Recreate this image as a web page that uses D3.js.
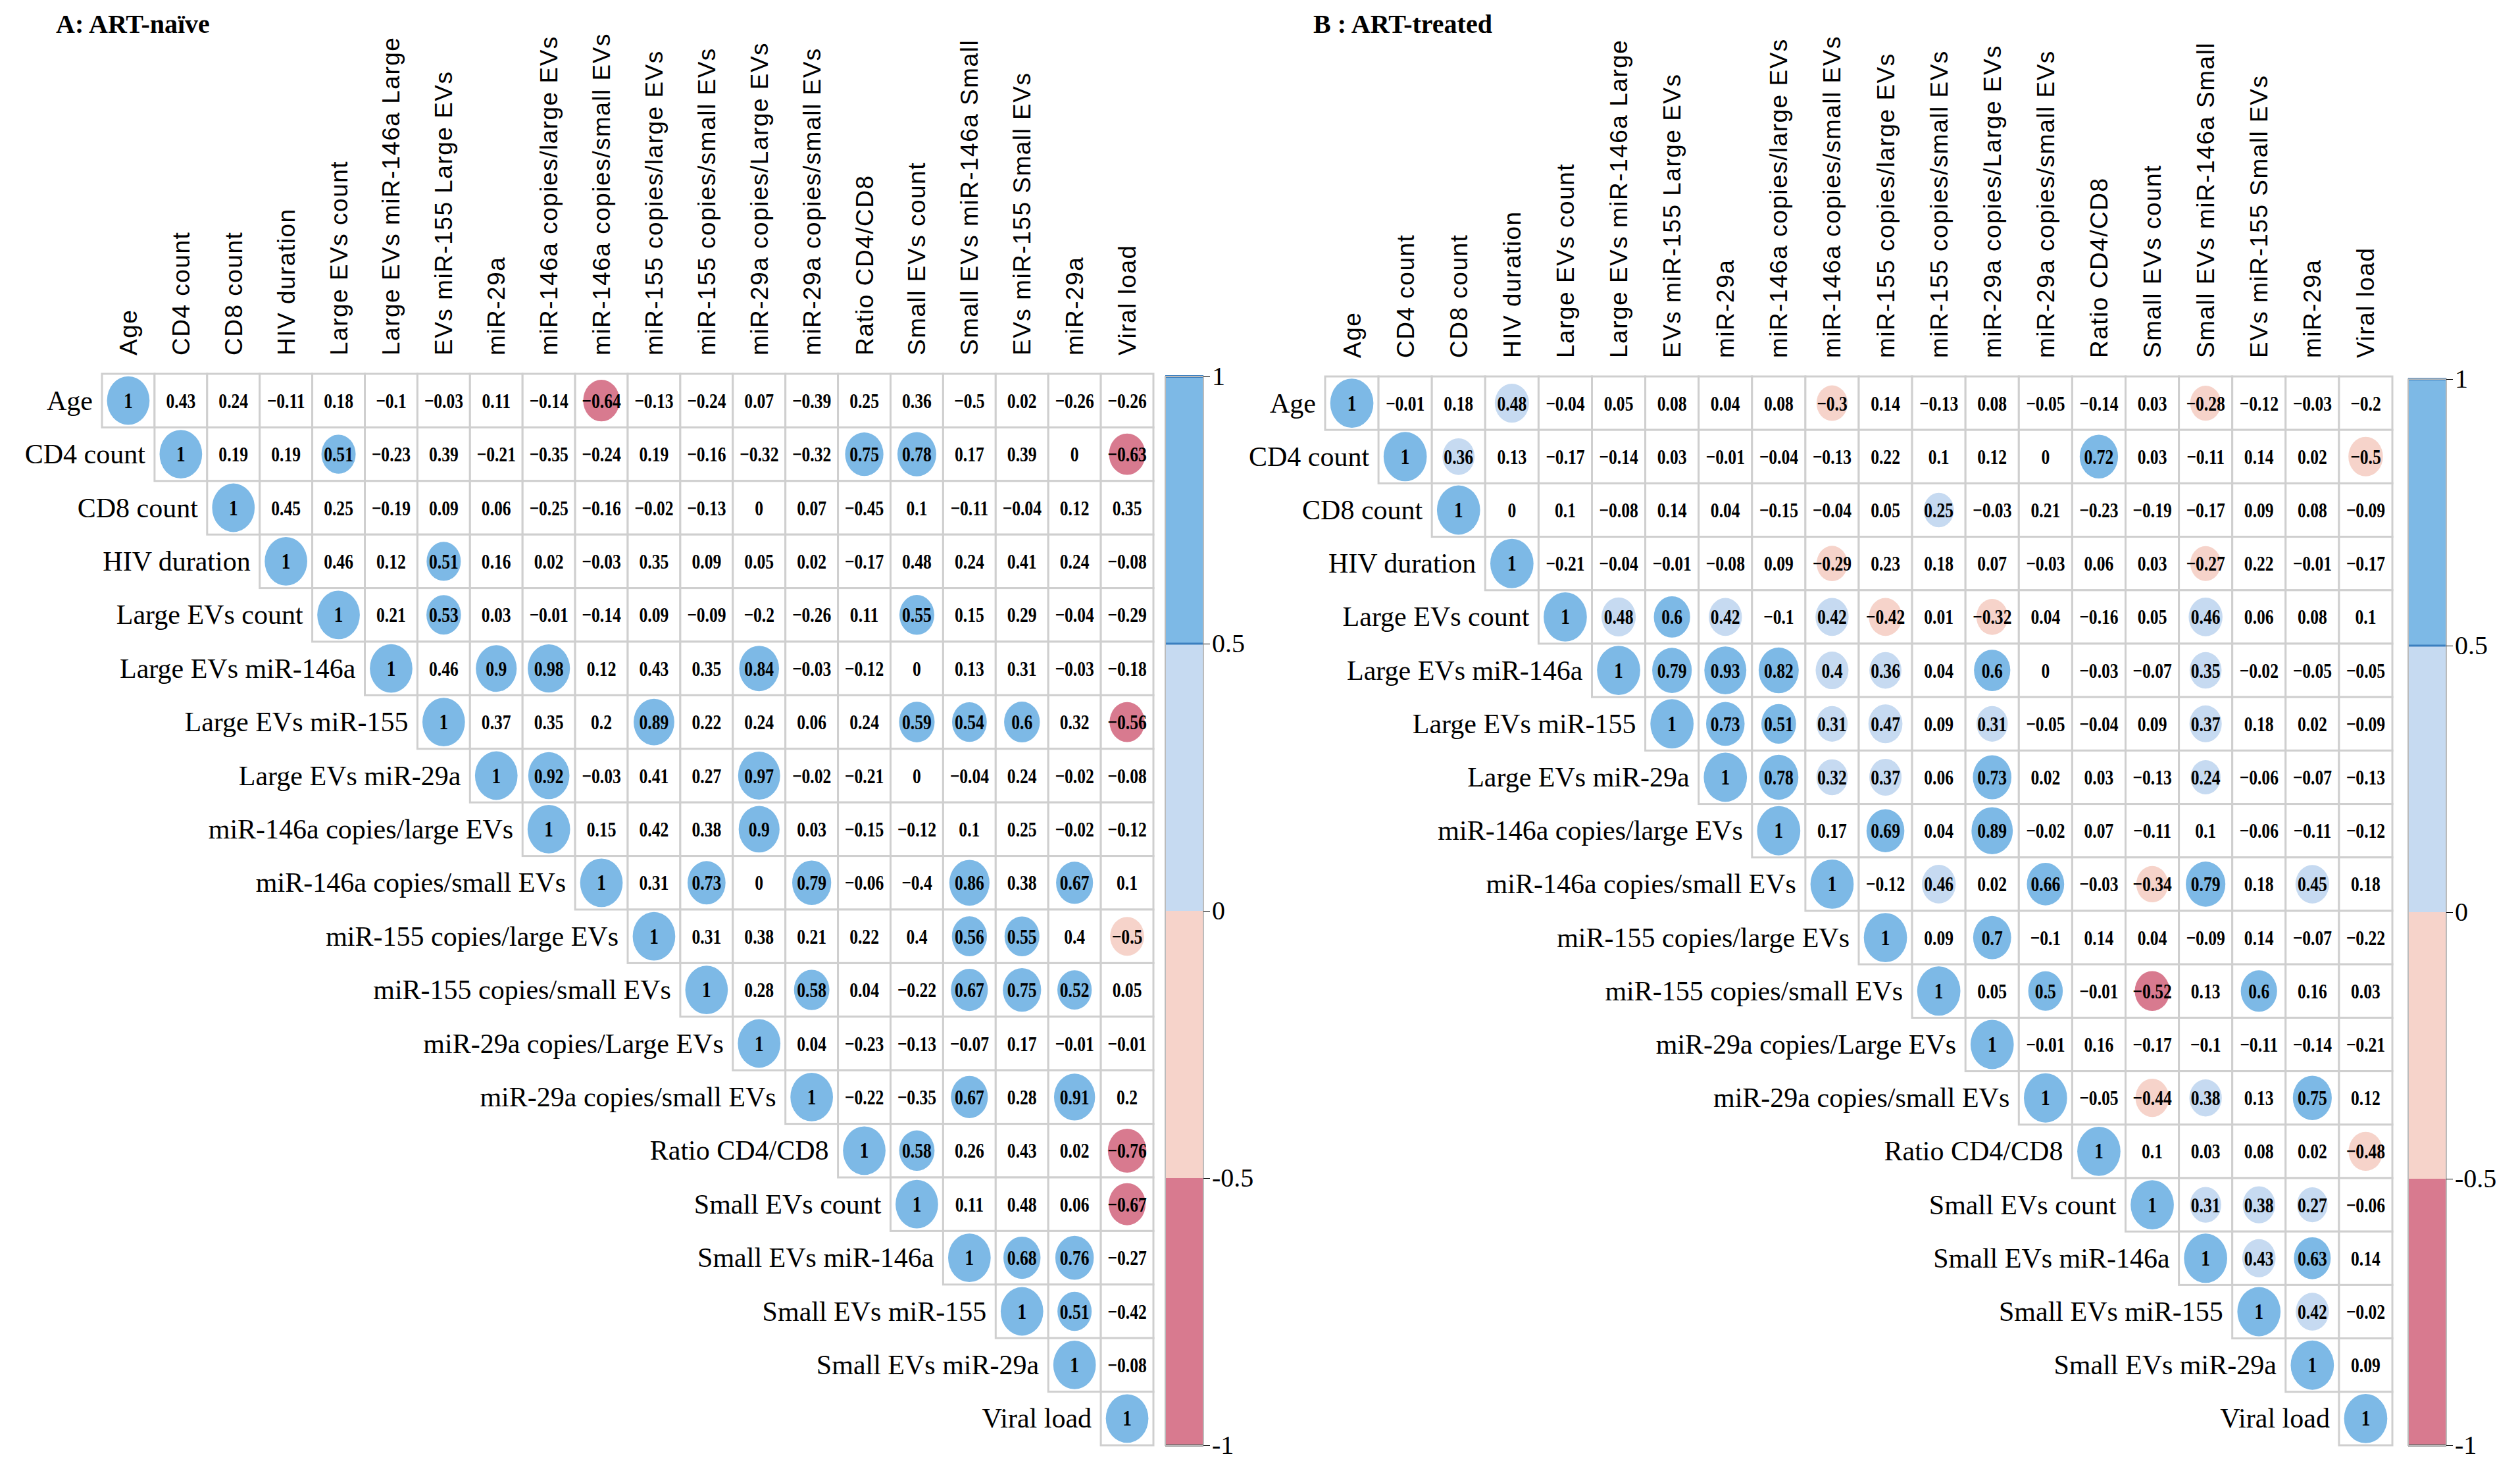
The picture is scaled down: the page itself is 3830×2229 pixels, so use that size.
<!DOCTYPE html>
<html><head><meta charset="utf-8">
<script src="https://cdn.jsdelivr.net/npm/d3@7"></script>
<style>body{margin:0;background:#fff}</style>
</head><body>
<svg id="c" width="3830" height="2229"></svg>
<script>
const rowLabels = ["Age","CD4 count","CD8 count","HIV duration","Large EVs count","Large EVs miR-146a","Large EVs miR-155","Large EVs miR-29a","miR-146a copies/large EVs","miR-146a copies/small EVs","miR-155 copies/large EVs","miR-155 copies/small EVs","miR-29a copies/Large EVs","miR-29a copies/small EVs","Ratio CD4/CD8","Small EVs count","Small EVs miR-146a","Small EVs miR-155","Small EVs miR-29a","Viral load"];
const colLabelsA = ["Age","CD4 count","CD8 count","HIV duration","Large EVs count","Large EVs miR-146a Large","EVs miR-155 Large EVs","miR-29a","miR-146a copies/large EVs","miR-146a copies/small EVs","miR-155 copies/large EVs","miR-155 copies/small EVs","miR-29a copies/Large EVs","miR-29a copies/small EVs","Ratio CD4/CD8","Small EVs count","Small EVs miR-146a Small","EVs miR-155 Small EVs","miR-29a","Viral load"];
const colLabelsB = colLabelsA.map(d => d === "Ratio CD4/CD8" ? "Ratio  CD4/CD8" : d);

const valuesA = [
[1,0.43,0.24,-0.11,0.18,-0.1,-0.03,0.11,-0.14,-0.64,-0.13,-0.24,0.07,-0.39,0.25,0.36,-0.5,0.02,-0.26,-0.26],
[1,0.19,0.19,0.51,-0.23,0.39,-0.21,-0.35,-0.24,0.19,-0.16,-0.32,-0.32,0.75,0.78,0.17,0.39,0,-0.63],
[1,0.45,0.25,-0.19,0.09,0.06,-0.25,-0.16,-0.02,-0.13,0,0.07,-0.45,0.1,-0.11,-0.04,0.12,0.35],
[1,0.46,0.12,0.51,0.16,0.02,-0.03,0.35,0.09,0.05,0.02,-0.17,0.48,0.24,0.41,0.24,-0.08],
[1,0.21,0.53,0.03,-0.01,-0.14,0.09,-0.09,-0.2,-0.26,0.11,0.55,0.15,0.29,-0.04,-0.29],
[1,0.46,0.9,0.98,0.12,0.43,0.35,0.84,-0.03,-0.12,0,0.13,0.31,-0.03,-0.18],
[1,0.37,0.35,0.2,0.89,0.22,0.24,0.06,0.24,0.59,0.54,0.6,0.32,-0.56],
[1,0.92,-0.03,0.41,0.27,0.97,-0.02,-0.21,0,-0.04,0.24,-0.02,-0.08],
[1,0.15,0.42,0.38,0.9,0.03,-0.15,-0.12,0.1,0.25,-0.02,-0.12],
[1,0.31,0.73,0,0.79,-0.06,-0.4,0.86,0.38,0.67,0.1],
[1,0.31,0.38,0.21,0.22,0.4,0.56,0.55,0.4,-0.5],
[1,0.28,0.58,0.04,-0.22,0.67,0.75,0.52,0.05],
[1,0.04,-0.23,-0.13,-0.07,0.17,-0.01,-0.01],
[1,-0.22,-0.35,0.67,0.28,0.91,0.2],
[1,0.58,0.26,0.43,0.02,-0.76],
[1,0.11,0.48,0.06,-0.67],
[1,0.68,0.76,-0.27],
[1,0.51,-0.42],
[1,-0.08],
[1]];
const valuesB = [
[1,-0.01,0.18,0.48,-0.04,0.05,0.08,0.04,0.08,-0.3,0.14,-0.13,0.08,-0.05,-0.14,0.03,-0.28,-0.12,-0.03,-0.2],
[1,0.36,0.13,-0.17,-0.14,0.03,-0.01,-0.04,-0.13,0.22,0.1,0.12,0,0.72,0.03,-0.11,0.14,0.02,-0.5],
[1,0,0.1,-0.08,0.14,0.04,-0.15,-0.04,0.05,0.25,-0.03,0.21,-0.23,-0.19,-0.17,0.09,0.08,-0.09],
[1,-0.21,-0.04,-0.01,-0.08,0.09,-0.29,0.23,0.18,0.07,-0.03,0.06,0.03,-0.27,0.22,-0.01,-0.17],
[1,0.48,0.6,0.42,-0.1,0.42,-0.42,0.01,-0.32,0.04,-0.16,0.05,0.46,0.06,0.08,0.1],
[1,0.79,0.93,0.82,0.4,0.36,0.04,0.6,0,-0.03,-0.07,0.35,-0.02,-0.05,-0.05],
[1,0.73,0.51,0.31,0.47,0.09,0.31,-0.05,-0.04,0.09,0.37,0.18,0.02,-0.09],
[1,0.78,0.32,0.37,0.06,0.73,0.02,0.03,-0.13,0.24,-0.06,-0.07,-0.13],
[1,0.17,0.69,0.04,0.89,-0.02,0.07,-0.11,0.1,-0.06,-0.11,-0.12],
[1,-0.12,0.46,0.02,0.66,-0.03,-0.34,0.79,0.18,0.45,0.18],
[1,0.09,0.7,-0.1,0.14,0.04,-0.09,0.14,-0.07,-0.22],
[1,0.05,0.5,-0.01,-0.52,0.13,0.6,0.16,0.03],
[1,-0.01,0.16,-0.17,-0.1,-0.11,-0.14,-0.21],
[1,-0.05,-0.44,0.38,0.13,0.75,0.12],
[1,0.1,0.03,0.08,0.02,-0.48],
[1,0.31,0.38,0.27,-0.06],
[1,0.43,0.63,0.14],
[1,0.42,-0.02],
[1,0.09],
[1]];
// circle shown when |r| >= threshold, except listed [row, col] cells
const thresholdA = 0.5, thresholdB = 0.24;
const hiddenA = [[0,16]], hiddenB = [];
const legendTicks = [1,0.5,0,-0.5,-1];
const bandEdges = [1,0.5,0,-0.5,-1];
const bandColors = ["#7db9e6","#c6daf1","#f6d3ca","#d87a8f"];

const svg = d3.select("#c");
function color(r){ return r>=0.5?bandColors[0]:r>=0?bandColors[1]:r>=-0.5?bandColors[2]:bandColors[3]; }
function fmt(v){ return v<0 ? "\u2212"+String(-v) : String(v); }

function panel(o){
  const n = rowLabels.length;
  const x = d3.scaleBand().domain(d3.range(n)).range([o.x0, o.x1]);
  const y = d3.scaleBand().domain(d3.range(n)).range([o.y0, o.y1]);
  const g = svg.append("g");
  g.append("text").attr("x",o.tx).attr("y",50).text(o.title)
    .attr("font-family","Liberation Serif").attr("font-weight","bold").attr("font-size",40);
  // column labels
  g.selectAll(".cl").data(o.cols).join("text")
    .attr("transform",(d,i)=>`translate(${x(i)+x.bandwidth()/2+13},${o.y0-28}) rotate(-90)`)
    .attr("font-family","Liberation Sans").attr("font-size",37).attr("letter-spacing",1.5).text(d=>d);
  const cells = [];
  o.vals.forEach((row,i)=>row.forEach((v,k)=>cells.push({i, j:i+k, v})));
  const hid = new Set(o.hidden.map(p=>p.join(",")));
  g.selectAll("rect.c").data(cells).join("rect")
    .attr("x",d=>x(d.j)).attr("y",d=>y(d.i)).attr("width",x.bandwidth()).attr("height",y.bandwidth())
    .attr("fill","#fff").attr("stroke","#cfcfcf").attr("stroke-width",3);
  const R = Math.min(x.bandwidth(), y.bandwidth())*0.44;
  g.selectAll("ellipse").data(cells.filter(d=>Math.abs(d.v)>=o.th && !hid.has(d.i+","+d.j))).join("ellipse")
    .attr("cx",d=>x(d.j)+x.bandwidth()/2).attr("cy",d=>y(d.i)+y.bandwidth()/2)
    .attr("rx",d=>R*0.92*(0.6+0.4*Math.abs(d.v))).attr("ry",d=>R*1.05*(0.6+0.4*Math.abs(d.v)))
    .attr("fill",d=>color(d.v));
  g.selectAll("text.v").data(cells).join("text")
    .attr("transform",d=>`translate(${x(d.j)+x.bandwidth()/2},${y(d.i)+y.bandwidth()/2+11}) scale(0.8,1)`)
    .attr("text-anchor","middle").attr("font-family","Liberation Serif").attr("font-weight","bold")
    .attr("font-size",d=>d.i===d.j?34:32).text(d=>fmt(d.v));
  g.selectAll("text.r").data(rowLabels).join("text")
    .attr("x",(d,i)=>x(i)-14).attr("y",(d,i)=>y(i)+y.bandwidth()/2+14)
    .attr("text-anchor","end").attr("font-family","Liberation Serif").attr("font-size",42).text(d=>d);
  // legend
  const ly = d3.scaleLinear().domain([-1,1]).range([o.y1, o.y0+4]);
  const lg = g.append("g");
  lg.selectAll("rect").data(bandColors).join("rect")
    .attr("x",o.lx).attr("width",58).attr("y",(d,i)=>ly(bandEdges[i])).attr("height",(d,i)=>ly(bandEdges[i+1])-ly(bandEdges[i]))
    .attr("fill",d=>d);
  lg.append("line").attr("x1",o.lx).attr("x2",o.lx+58).attr("y1",ly(0.5)).attr("y2",ly(0.5)).attr("stroke","#3b7fbf").attr("stroke-width",3);
  lg.append("line").attr("x1",o.lx).attr("x2",o.lx+58).attr("y1",ly(1)).attr("y2",ly(1)).attr("stroke","#3b7fbf").attr("stroke-width",4);
  lg.append("line").attr("x1",o.lx).attr("x2",o.lx+58).attr("y1",ly(-1)).attr("y2",ly(-1)).attr("stroke","#222").attr("stroke-width",3);
  lg.append("rect").attr("x",o.lx).attr("y",ly(1)).attr("width",58).attr("height",ly(-1)-ly(1)).attr("fill","none").attr("stroke","#bbb").attr("stroke-width",2);
  const ax = d3.axisRight(ly).tickValues(legendTicks).tickSize(10).tickFormat(d=>String(d));
  const axg = lg.append("g").attr("transform",`translate(${o.lx+58},0)`).call(ax);
  axg.select(".domain").remove();
  axg.selectAll("text").attr("font-family","Liberation Serif").attr("font-size",40).attr("fill","#000");
}
panel({title:"A: ART-naïve", tx:85, cols:colLabelsA, vals:valuesA, th:thresholdA, hidden:hiddenA, x0:155, x1:1753, y0:568, y1:2196, lx:1771});
panel({title:"B : ART-treated", tx:1996, cols:colLabelsB, vals:valuesB, th:thresholdB, hidden:hiddenB, x0:2014, x1:3636, y0:572, y1:2196, lx:3660});
</script>
</body></html>
